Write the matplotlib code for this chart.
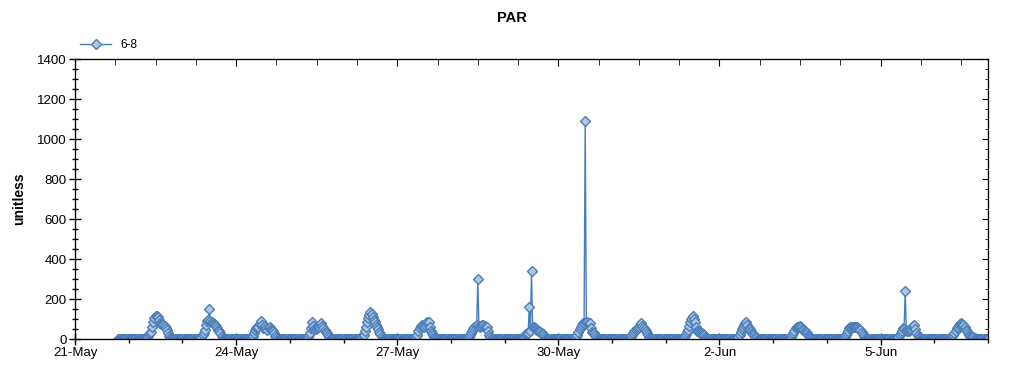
import numpy as np
import pandas as pd
import matplotlib
matplotlib.use("Agg")
import matplotlib.pyplot as plt
import matplotlib.dates as mdates
from matplotlib.ticker import FixedLocator, MultipleLocator

plt.rcParams['font.family'] = ['Liberation Sans', 'DejaVu Sans']

# half-hourly PAR readings; each day is 00:00-07:30, 08:00-15:30, 16:00-23:30
first_day = '2014-05-21'
first_hour = 19
par_21_may = [0, 0, 0, 0, 0, 0, 0, 0, 0, 0]  # 19:00-23:30
night = [0, 0, 0, 0, 0, 0, 0, 0, 0, 0, 0, 0, 0, 0, 0]  # 00:00-07:00
par_days = [
    # 22-May
    night + [2] + [5, 15, 25, 30, 35, 60, 85, 105, 115, 115, 110, 95, 80, 75, 75, 70]
    + [65, 55, 45, 30, 15, 5, 0, 0, 0, 0, 0, 0, 0, 0, 0, 0],
    # 23-May
    night + [2] + [5, 12, 20, 32, 45, 70, 90, 95, 150, 90, 85, 80, 75, 70, 65, 55]
    + [45, 38, 30, 15, 5, 0, 0, 0, 0, 0, 0, 0, 0, 0, 0, 0],
    # 24-May
    night[:14] + [5, 15] + [30, 45, 55, 58, 60, 75, 90, 70, 55, 60, 65, 55, 45, 55, 60, 50]
    + [45, 38, 30, 15, 5, 0, 0, 0, 0, 0, 0, 0, 0, 0, 0, 0],
    # 25-May
    night + [5] + [10, 20, 30, 55, 85, 65, 50, 52, 55, 58, 60, 70, 80, 65, 55, 45]
    + [35, 28, 20, 8, 0, 0, 0, 0, 0, 0, 0, 0, 0, 0, 0, 0],
    # 26-May
    night + [5] + [10, 15, 20, 40, 60, 85, 105, 120, 135, 125, 110, 95, 85, 70, 60, 48]
    + [35, 25, 15, 5, 0, 0, 0, 0, 0, 0, 0, 0, 0, 0, 0, 0],
    # 27-May
    night + [2] + [5, 12, 20, 38, 55, 65, 70, 65, 60, 70, 80, 85, 85, 60, 40, 30]
    + [20, 12, 5, 0, 0, 0, 0, 0, 0, 0, 0, 0, 0, 0, 0, 0],
    # 28-May
    night + [5] + [10, 20, 30, 40, 50, 58, 65, 70, 300, 65, 60, 65, 70, 68, 65, 62]
    + [60, 40, 20, 8, 0, 0, 0, 0, 0, 0, 0, 0, 0, 0, 0, 0],
    # 29-May
    night + [2] + [5, 12, 20, 25, 30, 30, 160, 40, 340, 60, 60, 55, 50, 45, 40, 38]
    + [35, 30, 25, 15, 5, 0, 0, 0, 0, 0, 0, 0, 0, 0, 0, 0],
    # 30-May
    night + [5] + [10, 22, 35, 48, 60, 70, 80, 80, 1090, 85, 85, 82, 80, 55, 35, 32]
    + [30, 20, 10, 5, 0, 0, 0, 0, 0, 0, 0, 0, 0, 0, 0, 0],
    # 31-May
    night + [2] + [5, 12, 20, 30, 40, 45, 50, 55, 60, 70, 80, 65, 55, 48, 40, 30]
    + [20, 12, 5, 0, 0, 0, 0, 0, 0, 0, 0, 0, 0, 0, 0, 0],
    # 1-Jun
    night + [2] + [5, 15, 25, 35, 45, 65, 85, 100, 115, 100, 85, 60, 40, 38, 35, 32]
    + [30, 25, 20, 12, 5, 0, 0, 0, 0, 0, 0, 0, 0, 0, 0, 0],
    # 2-Jun
    night + [2] + [5, 12, 20, 35, 50, 60, 70, 78, 85, 70, 55, 48, 40, 32, 25, 18]
    + [10, 5, 0, 0, 0, 0, 0, 0, 0, 0, 0, 0, 0, 0, 0, 0],
    # 3-Jun
    night + [2] + [5, 18, 30, 42, 55, 58, 60, 62, 65, 58, 50, 45, 40, 35, 30, 22]
    + [15, 10, 5, 0, 0, 0, 0, 0, 0, 0, 0, 0, 0, 0, 0, 0],
    # 4-Jun
    night + [5] + [10, 20, 30, 42, 55, 58, 60, 60, 60, 60, 60, 58, 55, 50, 45, 35]
    + [25, 15, 5, 0, 0, 0, 0, 0, 0, 0, 0, 0, 0, 0, 0, 0],
    # 5-Jun
    night + [5] + [10, 20, 30, 42, 55, 50, 240, 45, 40, 42, 45, 52, 60, 65, 70, 50]
    + [30, 20, 10, 5, 0, 0, 0, 0, 0, 0, 0, 0, 0, 0, 0, 0],
    # 6-Jun
    night + [5] + [15, 22, 30, 42, 55, 62, 70, 75, 80, 75, 70, 58, 45, 38, 30, 22]
    + [15, 12, 10, 8, 5, 2, 0, 0, 0, 0, 0, 0, 0, 0, 0, 0],
]
par_7_jun = [0]  # 00:00

values = par_21_may + [v for day in par_days for v in day] + par_7_jun
times = pd.date_range(pd.Timestamp(first_day) + pd.Timedelta(hours=first_hour),
                      periods=len(values), freq='30min')

blue = '#4a7ebb'
face = '#afc6dd'

fig = plt.figure(figsize=(10.24, 3.75), dpi=100)
ax = fig.add_axes([75 / 1024, 1 - 339 / 375, (988 - 75) / 1024, (339 - 59) / 375])

ax.plot(times, values, color=blue, lw=1, marker='D', ms=5.5,
        mfc=face, mec=blue, mew=1, label='6-8')

t0 = mdates.date2num(pd.Timestamp(first_day))
ax.set_xlim(t0, t0 + 17)
ax.set_ylim(0, 1400)

ax.xaxis.set_major_locator(FixedLocator(t0 + np.arange(0, 18, 3)))
ax.xaxis.set_minor_locator(FixedLocator(t0 + np.arange(0, 18, 1)))
ax.xaxis.set_major_formatter(mdates.DateFormatter('%-d-%b'))
ax.yaxis.set_major_locator(MultipleLocator(200))
ax.yaxis.set_minor_locator(MultipleLocator(50))

ax.tick_params(axis='x', which='major', direction='inout', length=9, width=1, labelsize=9.5, pad=1)
ax.tick_params(axis='x', which='minor', direction='out', length=3, width=1)
ax.tick_params(axis='y', which='major', direction='inout', length=8, width=1, labelsize=9.5, pad=2)
ax.tick_params(axis='y', which='minor', direction='inout', length=4, width=1)

# tick marks on the top and right frame
top = ax.twiny()
top.set_xlim(ax.get_xlim())
top.xaxis.set_major_locator(FixedLocator(t0 + np.arange(0, 18, 3)))
top.xaxis.set_minor_locator(FixedLocator(t0 + np.arange(0, 17.01, 0.75)))
top.tick_params(axis='x', which='both', direction='in', labeltop=False)
top.tick_params(axis='x', which='major', length=5)
top.tick_params(axis='x', which='minor', length=4)
right = ax.twinx()
right.set_ylim(ax.get_ylim())
right.yaxis.set_major_locator(MultipleLocator(200))
right.yaxis.set_minor_locator(MultipleLocator(50))
right.tick_params(axis='y', which='both', direction='in', labelright=False)
right.tick_params(axis='y', which='major', length=4)
right.tick_params(axis='y', which='minor', length=2)

ax.set_ylabel('unitless', fontsize=10, fontweight='bold', labelpad=8)
fig.text(0.5, 1 - 18 / 375, 'PAR', ha='center', va='center', fontsize=10.5, fontweight='bold')

ax.legend(loc='center left', bbox_to_anchor=(78 / 1024, 1 - 45 / 375), bbox_transform=fig.transFigure,
          frameon=False, fontsize=8.5, handlelength=2.6, borderaxespad=0, borderpad=0.2)

fig.savefig('out.png', dpi=100)
